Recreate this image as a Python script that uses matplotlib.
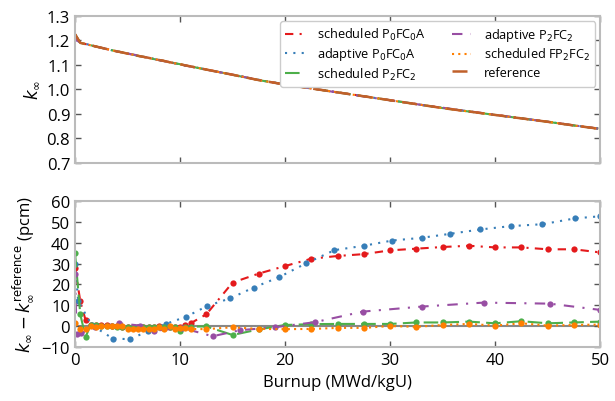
import matplotlib
matplotlib.use("Agg")
import matplotlib.pyplot as plt

# burnup steps (MWd/kgU)
bu_sched = [0, 0.5, 1, 1.5, 2, 2.5, 3, 3.5, 4, 4.5, 5, 5.5, 6, 6.5, 7, 7.5,
            8, 8.5, 9, 9.5, 10, 10.5, 11, 12.5, 15, 17.5, 20, 22.5, 25, 27.5,
            30, 32.5, 35, 37.5, 40, 42.5, 45, 47.5, 50]
bu_adapt_p0 = [0, 0.3, 1.6, 3.6, 5.2, 6.9, 8.7, 10.6, 12.6, 14.8, 17.0, 19.4,
               22.0, 24.7, 27.5, 30.2, 33.0, 35.7, 38.6, 41.5, 44.5, 47.6, 50.0]
bu_adapt_p2 = [0, 0.15, 0.6, 1.9, 4.2, 6.2, 7.5, 10.2, 13.1, 15.7, 19.0, 22.8,
               27.4, 33.0, 38.9, 45.2, 50.0]

# k_inf
k_ref = [1.225, 1.190, 1.185, 1.180, 1.175, 1.170, 1.165, 1.160, 1.155, 1.151,
         1.146, 1.142, 1.137, 1.133, 1.129, 1.124, 1.120, 1.116, 1.111, 1.107,
         1.103, 1.098, 1.094, 1.081, 1.060, 1.038, 1.020, 1.004, 0.988, 0.972,
         0.956, 0.940, 0.924, 0.910, 0.896, 0.882, 0.868, 0.853, 0.839]
k_adapt_p0 = [1.225, 1.195, 1.179, 1.159, 1.145, 1.130, 1.114, 1.097, 1.080,
              1.062, 1.043, 1.025, 1.008, 0.990, 0.972, 0.955, 0.937, 0.921,
              0.904, 0.888, 0.871, 0.853, 0.840]
k_adapt_p2 = [1.225, 1.200, 1.189, 1.176, 1.153, 1.137, 1.124, 1.100, 1.076,
              1.054, 1.027, 1.002, 0.972, 0.937, 0.903, 0.867, 0.839]

# difference to reference (pcm)
d_sched_p0 = [28, 12, 3.0, 0.8, 0.6, 0.5, 0.6, 0.3, 0.0, -0.2, -0.5, -0.3,
              -0.5, -0.2, -0.4, -0.3, 0.0, -0.5, -0.3, -0.6, -0.4, 0.5, 1.4,
              5.7, 20.9, 25.2, 28.8, 32.3, 33.6, 34.5, 36.3, 37.1, 37.9, 38.5,
              37.7, 37.7, 36.8, 36.8, 35.3]
d_adapt_p0 = [30, 12, 0.5, -5.9, -6.2, -2.5, 1.2, 4.6, 9.7, 13.4, 18.5, 23.4,
              30.1, 36.4, 38.5, 41.0, 42.3, 44.2, 46.3, 47.9, 48.8, 51.6, 52.6]
d_sched_p2 = [35, 5.7, -5.2, 0.8, 0.5, 0.3, 0.3, 0.0, -0.2, -0.3, -0.5, -0.3,
              -0.2, -0.5, -0.3, -0.6, -0.3, -0.4, -0.6, -0.3, -2.5, -0.3, -0.2,
              -0.1, -4.2, -1.5, 0.6, 1.0, 1.1, 1.1, 1.1, 1.8, 1.8, 2.2, 1.4,
              2.4, 1.4, 1.8, 2.2]
d_adapt_p2 = [25, -3.8, -3.3, -0.5, 1.4, 0.3, -2.2, -0.8, -4.8, -1.9, -0.5,
              1.9, 7.0, 9.4, 11.3, 10.8, 7.8]
d_sched_fp2 = [1.5, -1.3, -1.3, -0.1, -0.6, 0.1, 0.0, -0.1, -0.1, -0.1, -1.3,
               -1.3, -1.3, -1.3, -1.3, -1.3, -0.5, -1.3, -0.1, -1.3, -1.0,
               -0.8, -1.3, -1.4, -0.5, -1.3, -1.4, -1.3, -0.8, -0.8, 0.1, -0.3,
               0.6, 1.1, 0.3, 1.4, 0.3, 0.6, 0.8]

plt.rcParams["font.family"] = ["Open Sans", "DejaVu Sans"]
plt.rcParams["mathtext.fontset"] = "dejavusans"
plt.rcParams["font.size"] = 12

red, blue, green = "#e41a1c", "#377eb8", "#4daf4a"
purple, orange, brown = "#984ea3", "#ff7f00", "#c0602a"

series = [
    ("scheduled P$_0$FC$_0$A", bu_sched, d_sched_p0, None, red, (4, 3, 1, 3)),
    ("adaptive P$_0$FC$_0$A", bu_adapt_p0, d_adapt_p0, k_adapt_p0, blue, (1, 3)),
    ("scheduled P$_2$FC$_2$", bu_sched, d_sched_p2, None, green, (7, 3)),
    ("adaptive P$_2$FC$_2$", bu_adapt_p2, d_adapt_p2, k_adapt_p2, purple, (5, 4, 1, 4)),
    ("scheduled FP$_2$FC$_2$", bu_sched, d_sched_fp2, None, orange, (1, 2)),
]

fig = plt.figure(figsize=(6.15, 4.02), dpi=100)
ax1 = fig.add_axes([0.122, 0.592, 0.854, 0.366])
ax2 = fig.add_axes([0.122, 0.134, 0.854, 0.364])

for label, bu, diff, k, color, dash in series:
    if k is None:
        k = [kr + d * 1e-5 for kr, d in zip(k_ref, diff)]
    ax1.plot(bu, k, color=color, lw=1.5, dashes=dash, label=label)
    ax2.plot(bu, diff, color=color, lw=1.5, dashes=dash, marker="o",
             markersize=4.5, markeredgewidth=0)
ax1.plot(bu_sched, k_ref, color=brown, lw=1.8, dashes=(6, 3), label="reference")

ax2.axhline(0, color="#888888", lw=1.5, zorder=0)

ax1.set_xlim(0, 50)
ax1.set_ylim(0.7, 1.3)
ax1.set_yticks([0.7, 0.8, 0.9, 1.0, 1.1, 1.2, 1.3])
ax1.set_xticks([0, 10, 20, 30, 40, 50])
ax1.set_xticklabels([])
ax1.set_ylabel(r"$k_\infty$")

ax2.set_xlim(0, 50)
ax2.set_ylim(-10, 60)
ax2.set_yticks([-10, 0, 10, 20, 30, 40, 50, 60])
ax2.set_xticks([0, 10, 20, 30, 40, 50])
ax2.set_xlabel("Burnup (MWd/kgU)")
ax2.set_ylabel(r"$k_\infty - k_\infty^{\mathrm{reference}}$ (pcm)")

for ax in (ax1, ax2):
    for sp in ax.spines.values():
        sp.set_color("#bbbbbb")
        sp.set_linewidth(1.5)
    ax.tick_params(direction="in", top=True, right=True, length=4,
                   width=1, color="#555555", labelsize=12)

ax1.legend(loc="upper right", ncol=2, fontsize=9.2, handlelength=1.5,
           handletextpad=1.0, columnspacing=2.0, labelspacing=0.25,
           edgecolor="#cccccc", framealpha=1, borderaxespad=0.4)

fig.savefig("out.png", dpi=100)
